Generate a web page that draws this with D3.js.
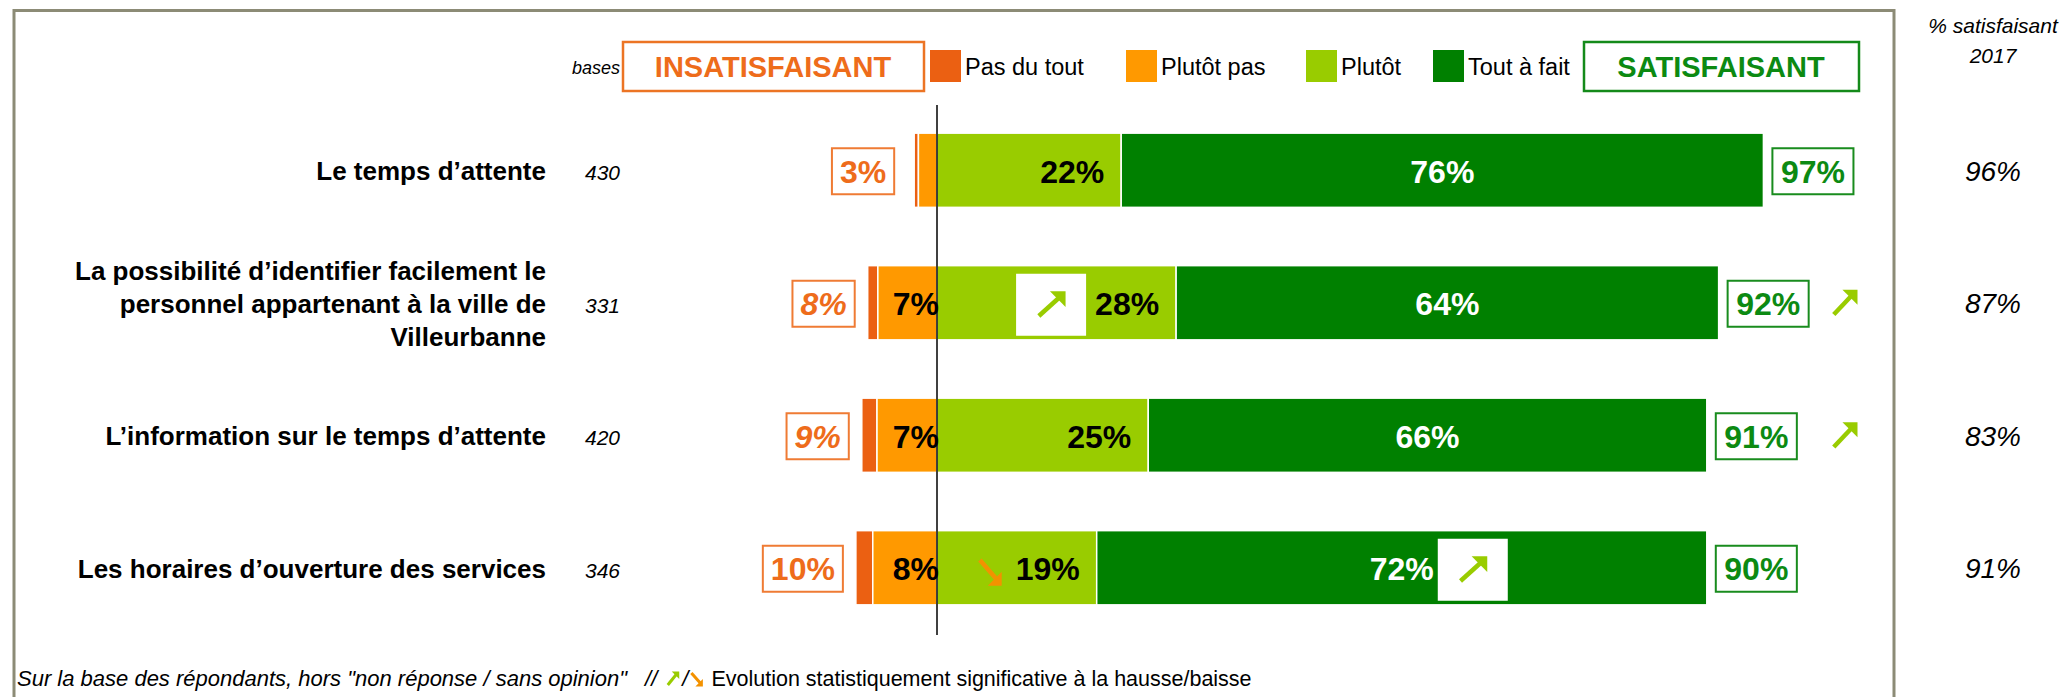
<!DOCTYPE html>
<html>
<head>
<meta charset="utf-8">
<script src="https://cdn.jsdelivr.net/npm/d3@7"></script>
<style>
  body { margin: 0; background: #fff; }
  svg text { font-family: "Liberation Sans", Arial, sans-serif; }
</style>
</head>
<body>
<svg id="chart" width="2067" height="697"></svg>
<script>
// data
const categories = [
  "Le temps d’attente",
  "La possibilité d’identifier facilement le\npersonnel appartenant à la ville de\nVilleurbanne",
  "L’information sur le temps d’attente",
  "Les horaires d’ouverture des services"
];
const bases = [430, 331, 420, 346];
const seriesNames = ["Pas du tout", "Plutôt pas", "Plutôt", "Tout à fait"];
const pasDuTout = [0.5, 1.2, 1.8, 2.0];
const plutotPas = [2.2, 7.0, 7.1, 7.6];
const plutot = [21.8, 28.3, 25.0, 18.9];
const toutAFait = [76.0, 64.2, 66.1, 72.2];
const labelPlutotPas = ["", "7%", "7%", "8%"];
const labelPlutot = ["22%", "28%", "25%", "19%"];
const labelToutAFait = ["76%", "64%", "66%", "72%"];
const totalInsat = ["3%", "8%", "9%", "10%"];
const totalSat = ["97%", "92%", "91%", "90%"];
const sat2017 = ["96%", "87%", "83%", "91%"];
const trendTotal = [null, "up", "up", null];
// arrows drawn inside bars: row, segment (2 = plutot, 3 = tout a fait), direction
const trendInBar = [
  { row: 1, seg: 2, dir: "up" },
  { row: 3, seg: 2, dir: "down" },
  { row: 3, seg: 3, dir: "up" }
];

// styles / layout
const colors = ["#eb6012", "#ff9900", "#99cc00", "#008000"];
const orangeTxt = "#ee6c1b";
const greenTxt = "#0c8a12";
const frameCol = "#8c8b76";
const insatItalic = [false, true, true, false];
const legendX = [930, 1126, 1306, 1433];

const svg = d3.select("#chart");

const x = d3.scaleLinear().domain([0, 100]).range([937, 1782]);
const y = d3.scaleBand()
  .domain(d3.range(categories.length))
  .range([104, 634])
  .paddingInner(0.44)
  .paddingOuter(0.22);
const bh = y.bandwidth();

// frame
svg.append("line").attr("x1", 14).attr("x2", 14).attr("y1", 9).attr("y2", 697)
  .attr("stroke", frameCol).attr("stroke-width", 3);
svg.append("line").attr("x1", 13).attr("x2", 1895).attr("y1", 10.5).attr("y2", 10.5)
  .attr("stroke", frameCol).attr("stroke-width", 3);
svg.append("line").attr("x1", 1894).attr("x2", 1894).attr("y1", 9).attr("y2", 697)
  .attr("stroke", frameCol).attr("stroke-width", 3);

// arrow glyph
function arrow(g, cx, cy, w, h, dir, col, sw) {
  const a = g.append("g").attr("transform", `translate(${cx},${cy})`);
  const hx = w / 2, hy = h / 2;
  const head = Math.min(w, h) * 0.58;
  if (dir === "up") {
    a.append("line").attr("x1", -hx + sw / 2).attr("y1", hy - sw / 2)
      .attr("x2", hx - head * 0.4).attr("y2", -hy + head * 0.4)
      .attr("stroke", col).attr("stroke-width", sw);
    a.append("path").attr("d", `M${hx - head},${-hy} L${hx},${-hy} L${hx},${-hy + head} Z`)
      .attr("fill", col);
  } else {
    a.append("line").attr("x1", -hx + sw / 2).attr("y1", -hy + sw / 2)
      .attr("x2", hx - head * 0.35).attr("y2", hy - head * 0.45)
      .attr("stroke", col).attr("stroke-width", sw);
    a.append("path").attr("d", `M${hx},${hy - head} L${hx},${hy} L${hx - head},${hy} Z`)
      .attr("fill", col);
  }
}

// header
svg.append("text").attr("x", 620).attr("y", 74).attr("text-anchor", "end")
  .attr("font-size", 18).attr("font-style", "italic").text("bases");

svg.append("rect").attr("x", 623).attr("y", 42).attr("width", 301).attr("height", 49)
  .attr("fill", "#fff").attr("stroke", "#ec7424").attr("stroke-width", 2.5);
svg.append("text").attr("x", 773).attr("y", 77).attr("text-anchor", "middle")
  .attr("font-size", 29).attr("font-weight", "bold").attr("fill", orangeTxt).text("INSATISFAISANT");

svg.append("rect").attr("x", 1584).attr("y", 42).attr("width", 275).attr("height", 49)
  .attr("fill", "#fff").attr("stroke", "#148a1a").attr("stroke-width", 2.5);
svg.append("text").attr("x", 1721).attr("y", 77).attr("text-anchor", "middle")
  .attr("font-size", 29).attr("font-weight", "bold").attr("fill", greenTxt).text("SATISFAISANT");

const leg = svg.append("g");
seriesNames.forEach((s, i) => {
  leg.append("rect").attr("x", legendX[i]).attr("y", 50).attr("width", 31).attr("height", 32)
    .attr("fill", colors[i]);
  leg.append("text").attr("x", legendX[i] + 35).attr("y", 75)
    .attr("font-size", 23.5).text(s);
});

svg.append("text").attr("x", 1993).attr("y", 33).attr("text-anchor", "middle")
  .attr("font-size", 21).attr("font-style", "italic").text("% satisfaisant");
svg.append("text").attr("x", 1993).attr("y", 63).attr("text-anchor", "middle")
  .attr("font-size", 21).attr("font-style", "italic").text("2017");

// rows
const rows = svg.append("g");
categories.forEach((cat, i) => {
  const cy = y(i) + bh / 2;
  const g = rows.append("g");

  // category label
  const lines = cat.split("\n");
  const lh = 33;
  lines.forEach((ln, k) => {
    g.append("text").attr("x", 546)
      .attr("y", cy + 10 + (k - (lines.length - 1) / 2) * lh)
      .attr("text-anchor", "end").attr("font-size", 26).attr("font-weight", "bold")
      .text(ln);
  });
  g.append("text").attr("x", 585).attr("y", cy + 10)
    .attr("font-size", 21).attr("font-style", "italic").text(bases[i]);

  // stacked segments
  const segs = [
    { x0: -(plutotPas[i] + pasDuTout[i]), x1: -plutotPas[i] },
    { x0: -plutotPas[i], x1: 0 },
    { x0: 0, x1: plutot[i] },
    { x0: plutot[i], x1: plutot[i] + toutAFait[i] }
  ];
  g.selectAll("rect.seg").data(segs).join("rect").attr("class", "seg")
    .attr("x", d => x(d.x0)).attr("width", d => x(d.x1) - x(d.x0))
    .attr("y", y(i)).attr("height", bh)
    .attr("fill", (d, k) => colors[k])
    .attr("stroke", "#fff").attr("stroke-width", 1.5);

  // labels in bars
  const labs = {};
  if (labelPlutotPas[i]) {
    labs[1] = g.append("text").attr("x", x(0) + 2).attr("y", cy + 12.5)
      .attr("text-anchor", "end").attr("font-size", 32).attr("font-weight", "bold")
      .text(labelPlutotPas[i]);
  }
  labs[2] = g.append("text").attr("x", x(plutot[i]) - 17).attr("y", cy + 12.5)
    .attr("text-anchor", "end").attr("font-size", 32).attr("font-weight", "bold")
    .text(labelPlutot[i]);
  labs[3] = g.append("text").attr("x", (x(segs[3].x0) + x(segs[3].x1)) / 2).attr("y", cy + 12.5)
    .attr("text-anchor", "middle").attr("font-size", 32).attr("font-weight", "bold")
    .attr("fill", "#fff").text(labelToutAFait[i]);

  // total insatisfaisant box
  const left0 = x(segs[0].x0);
  const ti = g.append("text").attr("y", cy + 12.5).attr("text-anchor", "middle")
    .attr("font-size", 32).attr("font-weight", "bold")
    .attr("font-style", insatItalic[i] ? "italic" : "normal")
    .attr("fill", orangeTxt).text(totalInsat[i]);
  const tiw = ti.node().getComputedTextLength() + 16;
  const gap = i === 0 ? 20 : 13;
  g.insert("rect", "text").attr("x", left0 - gap - tiw).attr("y", cy - 22).attr("width", tiw).attr("height", 46)
    .attr("fill", "#fff").attr("stroke", "#ef7b34").attr("stroke-width", 2);
  ti.attr("x", left0 - gap - tiw / 2);

  // total satisfaisant box
  const right0 = x(segs[3].x1);
  const ts = g.append("text").attr("y", cy + 12.5).attr("text-anchor", "middle")
    .attr("font-size", 32).attr("font-weight", "bold")
    .attr("fill", greenTxt).text(totalSat[i]);
  const tsw = ts.node().getComputedTextLength() + 17;
  g.insert("rect", "text").attr("x", right0 + 9).attr("y", cy - 22).attr("width", tsw).attr("height", 46)
    .attr("fill", "#fff").attr("stroke", "#198c1e").attr("stroke-width", 2);
  ts.attr("x", right0 + 9 + tsw / 2);

  if (trendTotal[i]) arrow(g, x(107.4), cy + 0.5, 26, 27, trendTotal[i], "#99cc00", 4.5);

  // 2017 reference
  g.append("text").attr("x", 1993).attr("y", cy + 10.5).attr("text-anchor", "middle")
    .attr("font-size", 28).attr("font-style", "italic").text(sat2017[i]);

  // arrows inside bars
  trendInBar.filter(t => t.row === i).forEach(t => {
    const bb = labs[t.seg].node().getBBox();
    if (t.dir === "up") {
      const bx = t.seg === 2 ? bb.x - 9 - 70 : bb.x + bb.width + 4;
      g.append("rect").attr("x", bx).attr("y", cy - 29).attr("width", 70).attr("height", 62).attr("fill", "#fff");
      arrow(g, bx + 35, cy + 2, 29, 27, "up", "#99cc00", 4.5);
    } else {
      arrow(g, bb.x - 13 - 13, cy + 4, 24, 28, "down", "#f39200", 4.5);
    }
  });
});

// zero line
svg.append("line").attr("x1", x(0)).attr("x2", x(0)).attr("y1", 105).attr("y2", 635)
  .attr("stroke", "#000").attr("stroke-width", 1.5);

// footnote
const foot = svg.append("g").attr("transform", "translate(17,686)");
const f1 = foot.append("text").attr("font-size", 22).attr("font-style", "italic")
  .text("Sur la base des répondants, hors \"non réponse / sans opinion\"");
let fx = f1.node().getComputedTextLength() + 18;
const fs = foot.append("text").attr("x", fx).attr("font-size", 22).attr("font-style", "italic").text("//");
fx += fs.node().getComputedTextLength() + 9;
arrow(foot, fx + 6.5, -7, 13, 15, "up", "#99cc00", 3);
fx += 16;
const f2 = foot.append("text").attr("x", fx).attr("font-size", 22).attr("font-style", "italic").text("/");
fx += f2.node().getComputedTextLength() + 1;
arrow(foot, fx + 7, -7, 13, 15, "down", "#f39200", 3);
fx += 22;
foot.append("text").attr("x", fx).attr("font-size", 21.5)
  .text("Evolution statistiquement significative à la hausse/baisse");
</script>
</body>
</html>
